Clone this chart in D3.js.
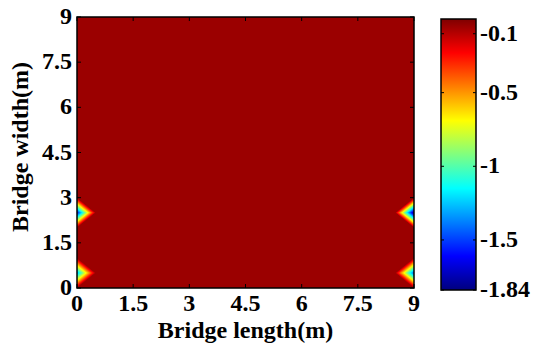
<!DOCTYPE html>
<html>
  <head>
    <meta charset="utf-8">
    <script type="text/javascript" src="https://cdn.jsdelivr.net/npm/d3@7/dist/d3.min.js"></script>
    <title></title>
    <style>
      body { margin: 0; background: #fff; }
    </style>
  </head>
  <body>
    <div id="body"></div>
    <script type="text/javascript">
    // data
    var xTicks = [0, 1.5, 3, 4.5, 6, 7.5, 9];
    var yTicks = [0, 1.5, 3, 4.5, 6, 7.5, 9];
    var cbTicks = [-0.1, -0.5, -1, -1.5, -1.84];
    var gridStep = 0.5;            // node spacing of the measurement grid (m)
    var baseValue = -0.05;         // almost the whole deck
    var peakX = [0, 0, 9, 9];
    var peakY = [0.5, 2.5, 0.5, 2.5];
    var peakValue = [-1.3, -1.6, -1.45, -1.84];
    var cMin = -1.84, cMax = 0;

    var w = 536, h = 349;
    var pLeft = 77, pRight = 414, pTop = 17, pBottom = 288;

    var svg = d3.select("#body").append("svg")
        .attr("width", w).attr("height", h);

    function label(sel) {
      return sel.attr("font-family", "Liberation Serif").attr("font-weight", "bold")
          .attr("font-size", 24).attr("fill", "#000");
    }

    var x = d3.scaleLinear().domain([0, 9]).range([pLeft, pRight]);
    var y = d3.scaleLinear().domain([0, 9]).range([pBottom, pTop]);

    // jet colormap
    var jetStops = [0, 0.125, 0.375, 0.625, 0.875, 1];
    var jetColors = ["#00007f", "#0000ff", "#00ffff", "#ffff00", "#ff0000", "#7f0000"];
    var color = d3.scaleLinear()
        .domain(jetStops.map(function(f) { return cMin + f * (cMax - cMin); }))
        .range(jetColors)
        .clamp(true);

    // field value: linear interpolation between the grid nodes
    function fieldValue(mx, my) {
      var v = baseValue;
      for (var i = 0; i < peakX.length; i++) {
        var k = 1 - Math.abs(mx - peakX[i]) / gridStep - Math.abs(my - peakY[i]) / gridStep;
        if (k > 0) v += (peakValue[i] - baseValue) * k;
      }
      return v;
    }

    var pw = pRight - pLeft, ph = pBottom - pTop;
    var canvas = document.createElement("canvas");
    canvas.width = pw; canvas.height = ph;
    var ctx = canvas.getContext("2d");
    var img = ctx.createImageData(pw, ph);
    for (var j = 0; j < ph; j++) {
      for (var i = 0; i < pw; i++) {
        var c = d3.rgb(color(fieldValue(x.invert(pLeft + i + 0.5), y.invert(pTop + j + 0.5))));
        var p = (j * pw + i) * 4;
        img.data[p] = c.r; img.data[p + 1] = c.g; img.data[p + 2] = c.b; img.data[p + 3] = 255;
      }
    }
    ctx.putImageData(img, 0, 0);

    svg.append("image")
        .attr("x", pLeft).attr("y", pTop)
        .attr("width", pw).attr("height", ph)
        .attr("preserveAspectRatio", "none")
        .attr("href", canvas.toDataURL());

    // axes
    var tickLen = 4;
    svg.append("rect")
        .attr("x", pLeft).attr("y", pTop).attr("width", pw).attr("height", ph)
        .attr("fill", "none").attr("stroke", "#000").attr("stroke-width", 1.5);

    xTicks.forEach(function(t) {
      svg.append("line").attr("x1", x(t)).attr("x2", x(t)).attr("y1", pBottom).attr("y2", pBottom - tickLen).attr("stroke", "#000");
      svg.append("line").attr("x1", x(t)).attr("x2", x(t)).attr("y1", pTop).attr("y2", pTop + tickLen).attr("stroke", "#000");
      label(svg.append("text")).attr("x", x(t)).attr("y", 311)
          .attr("text-anchor", "middle").text(t);
    });
    yTicks.forEach(function(t) {
      svg.append("line").attr("x1", pLeft).attr("x2", pLeft + tickLen).attr("y1", y(t)).attr("y2", y(t)).attr("stroke", "#000");
      svg.append("line").attr("x1", pRight).attr("x2", pRight - tickLen).attr("y1", y(t)).attr("y2", y(t)).attr("stroke", "#000");
      label(svg.append("text")).attr("x", 72).attr("y", y(t) + 7)
          .attr("text-anchor", "end").text(t);
    });

    label(svg.append("text")).attr("x", (pLeft + pRight) / 2).attr("y", 338)
        .attr("text-anchor", "middle").text("Bridge length(m)");
    label(svg.append("text")).attr("transform", "translate(28,147) rotate(-90)")
        .attr("text-anchor", "middle").text("Bridge width(m)");

    // colorbar
    var cbx = 441, cbw = 35;
    var cy = d3.scaleLinear().domain([cMin, cMax]).range([290, 19]);
    var grad = svg.append("defs").append("linearGradient")
        .attr("id", "jet").attr("x1", 0).attr("y1", 1).attr("x2", 0).attr("y2", 0);
    grad.selectAll("stop").data(jetStops).enter().append("stop")
        .attr("offset", function(d) { return d; })
        .attr("stop-color", function(d, i) { return jetColors[i]; });
    svg.append("rect")
        .attr("x", cbx).attr("y", cy(cMax)).attr("width", cbw).attr("height", cy(cMin) - cy(cMax))
        .attr("fill", "url(#jet)").attr("stroke", "#000").attr("stroke-width", 1.5);
    cbTicks.forEach(function(t) {
      svg.append("line").attr("x1", cbx).attr("x2", cbx + 3).attr("y1", cy(t)).attr("y2", cy(t)).attr("stroke", "#000");
      svg.append("line").attr("x1", cbx + cbw).attr("x2", cbx + cbw - 3).attr("y1", cy(t)).attr("y2", cy(t)).attr("stroke", "#000");
      label(svg.append("text")).attr("x", 480).attr("y", cy(t) + 7).text(t);
    });
    </script>
  </body>
</html>
